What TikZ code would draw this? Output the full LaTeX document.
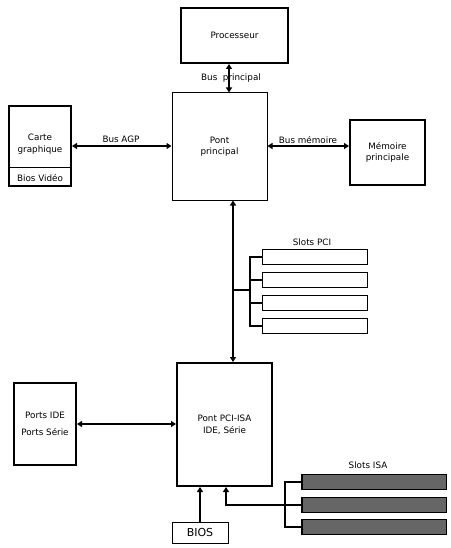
\documentclass[tikz,border=0pt]{standalone}
\usepackage{fontspec}
\setmainfont{DejaVu Sans}
\usetikzlibrary{arrows.meta}
\begin{document}
\begin{tikzpicture}[
            x=1pt, y=-1pt,
            every node/.style={font=\fontsize{8.8}{11.5}\selectfont, align=center, inner sep=0pt},
            box/.style={draw, line width=2pt, rectangle},
            thinbox/.style={draw, line width=1pt, rectangle},
            pcislot/.style={draw, line width=1pt, minimum width=105pt, minimum height=15pt,
              append after command={[line width=2.5pt] (\tikzlastnode.north east) edge (\tikzlastnode.south east)}},
            isaslot/.style={draw, line width=1pt, fill=black!60, minimum width=144pt, minimum height=15pt,
              append after command={[line width=2.5pt] (\tikzlastnode.north west) edge (\tikzlastnode.south west)}},
            bus/.style={line width=2pt, {Triangle[length=5pt,width=6pt]}-{Triangle[length=5pt,width=6pt]}},
            up/.style={line width=2pt, -{Triangle[length=5pt,width=6pt]}},
            wire/.style={line width=2pt}
            ]
            \useasboundingbox (0,0) rectangle (450,548);
            % northbridge side
            \node[box, minimum width=107pt, minimum height=55pt] (proc) at (234.5,35.5) {Processeur};
            \node[thinbox, minimum width=95pt, minimum height=107pt] (pp) at (219.5,146.5) {Pont\\principal};
            \node[box, minimum width=62pt, minimum height=80pt] (cg) at (40,146) {};
            \node (cgtext) at (40,144) {Carte\\graphique};
            \node (bios video) at (40,178) {Bios Vidéo};
            \draw[line width=1pt] (cg.west |- 0,168) -- (cg.east |- 0,168);
            \node[box, minimum width=75pt, minimum height=65pt] (mem) at (387.5,152.5) {Mémoire\\principale};
            \draw[bus, line width=1.5pt] (proc.south -| 229,0) -- (pp.north -| 229,0);
            \node (bus principal) at (231,78) {Bus\ \ principal};
            \draw[bus] (cg.east) -- (pp.west |- cg.east);
            \node (bus agp) at (121,139) {Bus AGP};
            \draw[bus] (pp.east |- 0,146) -- (mem.west |- 0,146);
            \node (bus memoire) at (308,140) {Bus mémoire};
            % PCI
            \node[box, minimum width=95pt, minimum height=123pt] (isa) at (224.5,424.5) {Pont PCI-ISA\\IDE, Série};
            \draw[bus] (pp.south -| 233,0) -- (isa.north -| 233,0);
            \node (slots pci) at (312,242) {Slots PCI};
            \node[pcislot] (pci1) at (314.5,257) {};
            \node[pcislot] (pci2) at (314.5,280) {};
            \node[pcislot] (pci3) at (314.5,303) {};
            \node[pcislot] (pci4) at (314.5,326) {};
            \draw[wire] (233,290) -- (250,290);
            \draw[wire] (pci1.west) -| (250,0 |- pci4.west) -- (pci4.west);
            \draw[wire] (pci2.west) -- (250,0 |- pci2.west);
            \draw[wire] (pci3.west) -- (250,0 |- pci3.west);
            % southbridge side
            \node[box, minimum width=62pt, minimum height=82pt] (ports) at (45,424) {Ports IDE\\[6pt]Ports Série};
            \draw[bus] (ports.east) -- (isa.west |- ports.east);
            \node[thinbox, minimum width=56pt, minimum height=21pt, font=\fontsize{11}{13}\selectfont] (bios) at (200,532.5) {BIOS};
            \draw[up] (bios.north) -- (bios.north |- isa.south);
            \node (slots isa) at (368,465) {Slots ISA};
            \node[isaslot] (isa1) at (374,482) {};
            \node[isaslot] (isa2) at (374,504.5) {};
            \node[isaslot] (isa3) at (374,527) {};
            \draw[up] (285,0 |- isa2.west) -| (226,0 |- isa.south);
            \draw[wire] (isa1.west) -| (285,0 |- isa3.west) -- (isa3.west);
            \draw[wire] (isa2.west) -- (285,0 |- isa2.west);
        \end{tikzpicture}
\end{document}
